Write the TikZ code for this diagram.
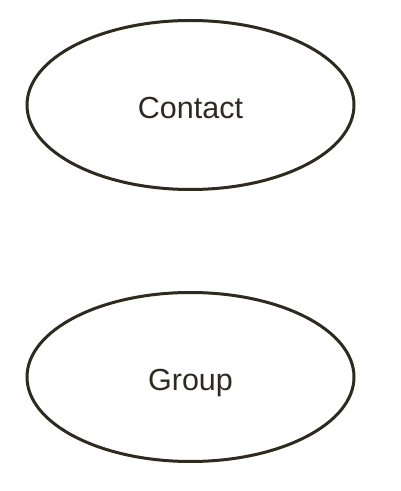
\documentclass[tikz,border=0pt]{standalone}
\usepackage{fontspec}
\setmainfont{Liberation Sans}
\usepackage{tikz}
\usetikzlibrary{shapes.geometric}
\definecolor{inkbrown}{HTML}{2E2A20}

\begin{document}
\begin{tikzpicture}[x=1pt,y=1pt,
    entity/.style={ellipse, draw=inkbrown, line width=3pt, inner sep=0pt,
      minimum width=327pt, minimum height=169pt, text=inkbrown,
      text height=27pt, text depth=0pt,
      font=\fontsize{30.5}{36}\selectfont}]
  \useasboundingbox (0,0) rectangle (400,491);
  \node[entity] (contact) at (190.5,386) {Contact};
  \node[entity] (group) at (190.5,114) {Group};
\end{tikzpicture}
\end{document}
